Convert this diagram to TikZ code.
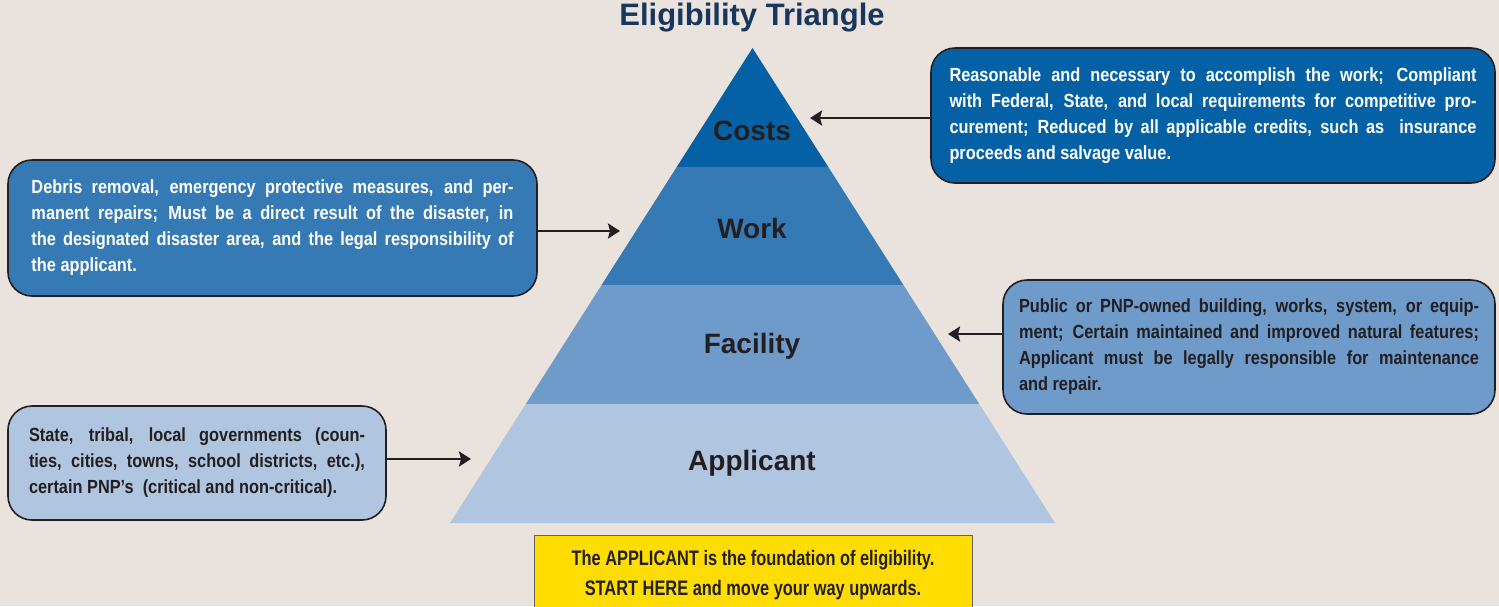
\documentclass[tikz,border=0pt]{standalone}
\usepackage{fontspec}
\setmainfont{Liberation Sans}
\newfontfamily\boxfont[FakeStretch=0.86]{Liberation Sans}
\newfontfamily\notefont[FakeStretch=0.78]{Liberation Sans}
\usepackage{tikz}
\usetikzlibrary{arrows.meta}
\usetikzlibrary{calc}
\definecolor{bgcolor}{HTML}{EAE2DC}
\definecolor{titlecolor}{HTML}{17375E}
\definecolor{costcolor}{HTML}{0561A6}
\definecolor{workcolor}{HTML}{3579B5}
\definecolor{facilcolor}{HTML}{6F9BCA}
\definecolor{applcolor}{HTML}{AFC5E0}
\definecolor{notecolor}{HTML}{FFDD00}
\definecolor{inkcolor}{HTML}{231F20}
\tikzset{
  infobox/.style={draw=inkcolor, line width=0.8pt, rounded corners=12pt,
    align=justify, inner sep=0pt, font={\boxfont\bfseries\fontsize{9.5}{13}\selectfont},
    execute at begin node={\tolerance=10000\hyphenpenalty=10000\exhyphenpenalty=10000\hbadness=10000}},
  layerlabel/.style={text=inkcolor, font={\bfseries\fontsize{14}{16}\selectfont}},
  pointer/.style={-{Stealth[length=6pt,width=7.5pt,inset=1pt]}, line width=1.2pt, draw=inkcolor}
}
\begin{document}
\begin{tikzpicture}[x=0.5pt,y=-0.5pt]
\fill[bgcolor] (0,0) rectangle (1499,606);
\clip (0,0) rectangle (1499,606);
\node[text=titlecolor, font={\bfseries\fontsize{15.5}{18}\selectfont}] (title) at (752,18) {Eligibility Triangle};

% triangle
\coordinate (apex) at (752.5,48);
\coordinate (bl) at (450,523);
\coordinate (br) at (1055,523);
\fill[costcolor] (apex) -- ($(apex)!0.25!(bl)$) -- ($(apex)!0.25!(br)$) -- cycle;
\fill[workcolor] ($(apex)!0.25!(bl)$) -- ($(apex)!0.5!(bl)$) -- ($(apex)!0.5!(br)$) -- ($(apex)!0.25!(br)$) -- cycle;
\fill[facilcolor] ($(apex)!0.5!(bl)$) -- ($(apex)!0.75!(bl)$) -- ($(apex)!0.75!(br)$) -- ($(apex)!0.5!(br)$) -- cycle;
\fill[applcolor] ($(apex)!0.75!(bl)$) -- (bl) -- (br) -- ($(apex)!0.75!(br)$) -- cycle;
\node[layerlabel] (costs) at (752,131) {Costs};
\node[layerlabel] (work) at (752,228) {Work};
\node[layerlabel] (facility) at (752,346) {Facility};
\node[layerlabel] (applicant) at (752,463) {Applicant};

% boxes
\node[infobox, fill=costcolor, text=white, minimum width=282pt, minimum height=67.5pt, text width=263.5pt] (costbox) at (1213,115.5) {%
Reasonable and necessary to accomplish the work; Compliant\linebreak
with Federal, State, and local requirements for competitive pro-\linebreak
curement; Reduced by all applicable credits, such as\ \ insurance\linebreak
proceeds and salvage value.};
\node[infobox, fill=workcolor, text=white, minimum width=264.5pt, minimum height=68pt, text width=241pt] (workbox) at (272.5,228) {%
Debris removal, emergency protective measures, and per-\linebreak
manent repairs; Must be a direct result of the disaster, in\linebreak
the designated disaster area, and the legal responsibility of\linebreak
the applicant.};
\node[infobox, fill=facilcolor, text=inkcolor, minimum width=246pt, minimum height=67pt, text width=230pt] (facilbox) at (1249,347) {%
Public or PNP-owned building, works, system, or equip-\linebreak
ment; Certain maintained and improved natural features;\linebreak
Applicant must be legally responsible for maintenance\linebreak
and repair.};
\node[infobox, fill=applcolor, text=inkcolor, minimum width=189pt, minimum height=57pt, text width=168pt] (applbox) at (197,463) {%
State, tribal, local governments (coun-\linebreak
ties, cities, towns, school districts, etc.),\linebreak
certain PNP’s\ \ (critical and non-critical).};
\node[draw=inkcolor!70, fill=notecolor, text=inkcolor, line width=0.5pt, minimum width=219pt, minimum height=40pt, align=center,
  font={\notefont\bfseries\fontsize{10.5}{15}\selectfont}] (note) at (753,575) {The APPLICANT is the foundation of eligibility.\\START HERE and move your way upwards.};

% arrows
\coordinate (costtip) at (810,118);
\coordinate (worktip) at (620,231);
\coordinate (faciltip) at (948,334);
\coordinate (appltip) at (471,459);
\draw[pointer] (costbox.west |- costtip) -- (costtip);
\draw[pointer] (workbox.east |- worktip) -- (worktip);
\draw[pointer] (facilbox.west |- faciltip) -- (faciltip);
\draw[pointer] (applbox.east |- appltip) -- (appltip);
\end{tikzpicture}
\end{document}
